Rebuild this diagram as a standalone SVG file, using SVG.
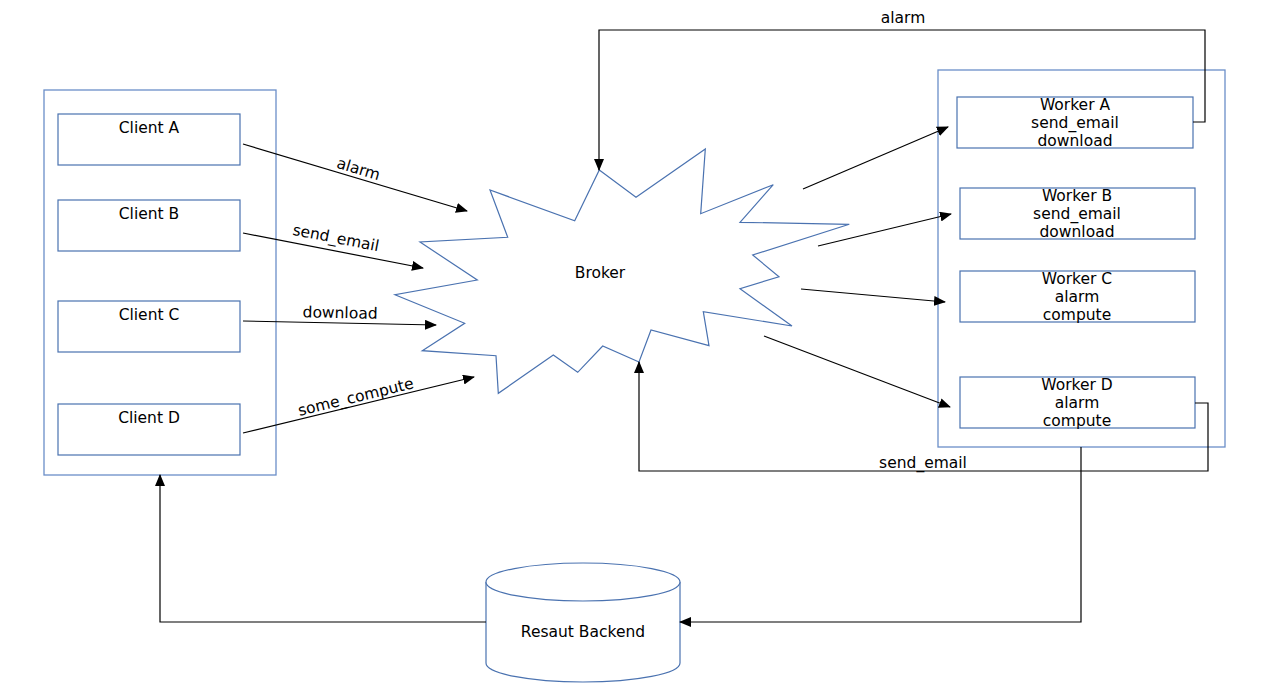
<svg xmlns="http://www.w3.org/2000/svg" width="1261" height="696" viewBox="0 0 1261 696">
<defs>
<marker id="ah" markerWidth="12" markerHeight="10" refX="11" refY="5" orient="auto" markerUnits="userSpaceOnUse"><path d="M0,0 L12,5 L0,10 Z" fill="#000"/></marker>
<style>
.box{fill:#fff;stroke:#4a72b0;stroke-width:1.2}
.cont{fill:none;stroke:#6a8ec8;stroke-width:1.3}
.t{font-family:"DejaVu Sans",sans-serif;font-size:15.5px;fill:#000;text-anchor:middle}
.c{fill:none;stroke:#000;stroke-width:1.2}
</style>
</defs>
<rect width="1261" height="696" fill="#fff"/>
<g id="clients">
<rect class="cont" x="44" y="90" width="232" height="385"/>
</g>
<g id="clientA"><rect class="box" x="58" y="114" width="182" height="51"/><text class="t" x="149" y="133">Client A</text></g>
<g id="clientB"><rect class="box" x="58" y="200" width="182" height="51"/><text class="t" x="149" y="219">Client B</text></g>
<g id="clientC"><rect class="box" x="58" y="301" width="182" height="51"/><text class="t" x="149" y="320">Client C</text></g>
<g id="clientD"><rect class="box" x="58" y="404" width="182" height="51"/><text class="t" x="149" y="423">Client D</text></g>
<g id="workers"><rect class="cont" x="938" y="70" width="287" height="377"/></g>
<g id="workerA"><rect class="box" x="957" y="97" width="236" height="51"/><text class="t" x="1075" y="110">Worker A</text><text class="t" x="1075" y="128">send_email</text><text class="t" x="1075" y="146">download</text></g>
<g id="workerB"><rect class="box" x="960" y="188" width="235" height="51"/><text class="t" x="1077" y="201">Worker B</text><text class="t" x="1077" y="219">send_email</text><text class="t" x="1077" y="237">download</text></g>
<g id="workerC"><rect class="box" x="960" y="271" width="235" height="51"/><text class="t" x="1077" y="284">Worker C</text><text class="t" x="1077" y="302">alarm</text><text class="t" x="1077" y="320">compute</text></g>
<g id="workerD"><rect class="box" x="960" y="377" width="235" height="51"/><text class="t" x="1077" y="390">Worker D</text><text class="t" x="1077" y="408">alarm</text><text class="t" x="1077" y="426">compute</text></g>
<g id="broker">
<polygon class="box" points="599.3,170 636,197.3 705.3,149 700.7,213.7 773.3,184.7 740,222.3 849.3,224.3 752.7,255 779,276.7 740,288.7 792,326 703.3,311.7 709,345.7 651,330 639,362 602.7,346 577.7,372.3 553.3,355 498.3,393.3 496,355.7 422.3,350.7 464.7,323.3 395,294.7 477.3,280 420,242 507.7,237.3 490,190 574.7,220.7"/>
<text class="t" x="600" y="278">Broker</text>
</g>
<g id="backend">
<path class="box" d="M486,582 L486,663 A97,19 0 0 0 680,663 L680,582"/>
<ellipse class="box" cx="583" cy="582" rx="97" ry="19"/>
<text class="t" x="583" y="637">Resaut Backend</text>
</g>
<g id="connectors">
<line class="c" x1="243" y1="144" x2="467" y2="211" marker-end="url(#ah)"/>
<line class="c" x1="243" y1="233" x2="423" y2="268" marker-end="url(#ah)"/>
<line class="c" x1="243" y1="321" x2="436" y2="325" marker-end="url(#ah)"/>
<line class="c" x1="243" y1="433" x2="474" y2="377" marker-end="url(#ah)"/>
<line class="c" x1="803" y1="189" x2="948" y2="127" marker-end="url(#ah)"/>
<line class="c" x1="818" y1="246" x2="951" y2="214" marker-end="url(#ah)"/>
<line class="c" x1="801" y1="289" x2="945" y2="302" marker-end="url(#ah)"/>
<line class="c" x1="764" y1="336" x2="950" y2="407" marker-end="url(#ah)"/>
<polyline class="c" points="1193,122 1205,122 1205,30 599,30 599,170" marker-end="url(#ah)"/>
<polyline class="c" points="1195,403 1208,403 1208,471 639,471 639,362" marker-end="url(#ah)"/>
<polyline class="c" points="1081,447 1081,622 680,622" marker-end="url(#ah)"/>
<polyline class="c" points="486,622 160,622 160,475" marker-end="url(#ah)"/>
<text class="t" transform="translate(357,174) rotate(16.7)">alarm</text>
<text class="t" transform="translate(335,243) rotate(11)">send_email</text>
<text class="t" transform="translate(340,318) rotate(1.2)">download</text>
<text class="t" transform="translate(357,402) rotate(-13.6)">some_compute</text>
<text class="t" x="903" y="23">alarm</text>
<text class="t" x="923" y="468">send_email</text>
</g>
</svg>
